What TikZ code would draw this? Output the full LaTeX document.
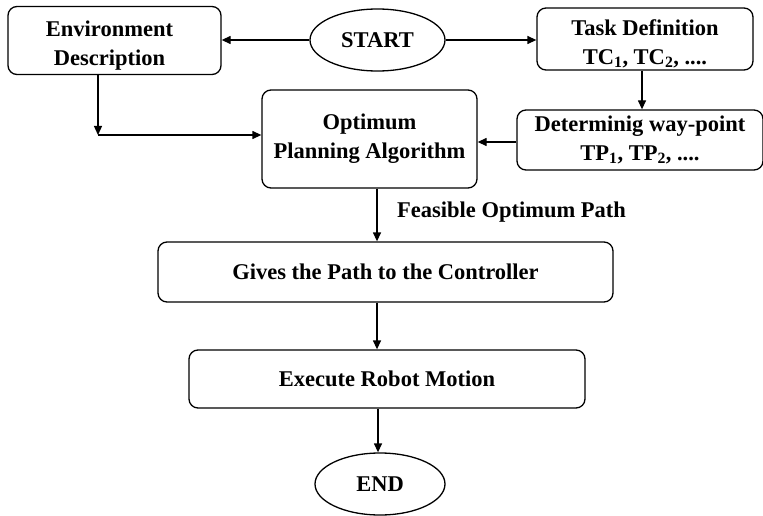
\documentclass[tikz,border=0pt]{standalone}
\usepackage{fontspec}
\setmainfont{Liberation Serif}
\usetikzlibrary{arrows.meta,shapes.geometric}
\newcommand{\lowtwo}[2]{\raisebox{-5pt}[\height][\depth]{\begin{tabular}{@{}c@{}}#1\\#2\end{tabular}}}
\begin{document}
\begin{tikzpicture}[x=1pt,y=-1pt,
  txt/.style={font=\fontsize{22.5}{29}\selectfont\bfseries},
  box/.style={txt,draw,line width=1.3pt,rounded corners=9pt,align=center,inner sep=0pt},
  oval/.style={txt,draw,ellipse,line width=1.3pt,inner sep=0pt},
  arr/.style={line width=1.3pt,-{Triangle[length=9pt,width=8pt]}}]
\useasboundingbox (0,0) rectangle (763,516);
\node[box,minimum width=213pt,minimum height=68pt] (env) at (114.5,40.5) {\hspace*{-10pt}\lowtwo{Environment}{Description}};
\node[oval,minimum width=135pt,minimum height=62pt] (start) at (377.5,40) {START};
\node[box,minimum width=216pt,minimum height=62pt] (task) at (645,39) {\lowtwo{Task Definition}{TC\textsubscript{1}, TC\textsubscript{2}, ....}};
\node[box,minimum height=98pt,minimum width=215pt] (opt) at (369.5,139) {Optimum\\Planning Algorithm};
\node[box,minimum width=246pt,minimum height=60pt] (det) at (640,140) {Determinig way-point\\TP\textsubscript{1}, TP\textsubscript{2}, ....};
\node[box,minimum width=455pt,minimum height=60pt] (gives) at (385.5,272) {Gives the Path to the Controller};
\node[box,minimum width=396pt,minimum height=58pt] (exec) at (387,379) {Execute Robot Motion};
\node[oval,minimum width=130pt,minimum height=62pt] (end) at (380,484) {END};
\node[txt,anchor=west,inner sep=0pt] (feas) at (397,212) {Feasible Optimum Path};
\coordinate (bend) at (98,135);
\draw[arr] (start.west) -- (start.west -| env.east);
\draw[arr] (start.east) -- (start.east -| task.west);
\draw[arr] (task.south -| 642,0) -- (det.north -| 642,0);
\draw[arr] (det.west |- 0,142) -- (opt.east |- 0,142);
\draw[arr] (env.south -| bend) -- (bend);
\draw[arr] (bend) -- (bend -| opt.west);
\draw[arr] (opt.south -| 377,0) -- (gives.north -| 377,0);
\draw[arr] (gives.south -| 377,0) -- (exec.north -| 377,0);
\draw[arr] (exec.south -| 378,0) -- (end.north -| 378,0);
\end{tikzpicture}
\end{document}
